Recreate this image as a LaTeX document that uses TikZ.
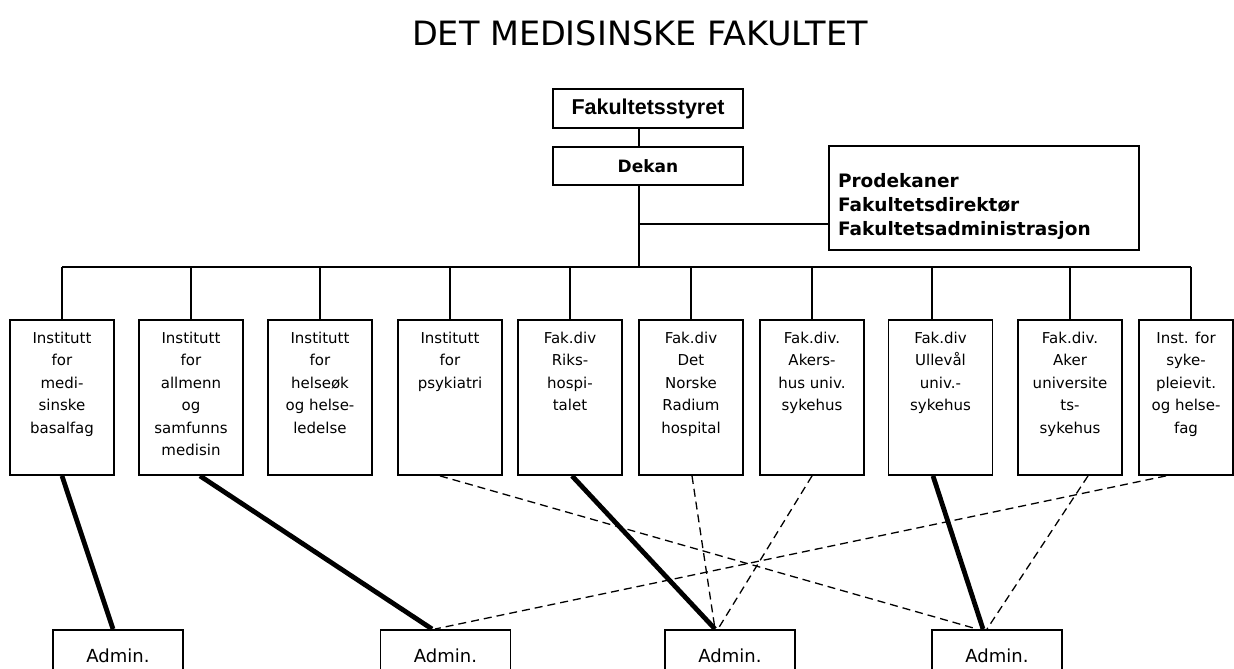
\documentclass[tikz,border=0pt]{standalone}
\usepackage{fontspec}
\setmainfont{DejaVu Sans}
\newfontfamily\arialfont{Liberation Sans}
\newcommand{\unittext}[1]{\parbox[c][131pt][t]{90pt}{\centering #1}}

\begin{document}
\begin{tikzpicture}[x=1pt,y=-1pt,
    box/.style={draw, line width=1.8pt, inner sep=0pt},
    unit/.style={box, minimum width=104pt, minimum height=155pt, font=\fontsize{15}{22.4}\selectfont},
    admin/.style={box, anchor=north, minimum width=130pt, minimum height=52pt, font=\fontsize{18}{22}\selectfont},
    tree/.style={line width=1.8pt},
    solid link/.style={line width=4.8pt},
    dashed link/.style={line width=1.3pt, dash pattern=on 8pt off 5pt}]
  \useasboundingbox (0,0) rectangle (1234,669);
  \clip (0,0) rectangle (1234,669);

  \node (title) at (640,33) {\fontsize{33.5}{38}\selectfont DET MEDISINSKE FAKULTET};
  \node (styret) at (648,108.5) [box, minimum width=190pt, minimum height=39pt] {\arialfont\bfseries\fontsize{21.5}{24}\selectfont Fakultetsstyret};
  \node (dekan) at (648,166) [box, minimum width=190pt, minimum height=38pt] {\bfseries\fontsize{17}{20}\selectfont Dekan};
  \node (prodek) at (984,198) [box, minimum width=310pt, minimum height=104pt, font=\bfseries\fontsize{18.5}{24}\selectfont]
    {\parbox[c][79pt][b]{292pt}{\raggedright Prodekaner\\Fakultetsdirektør\\Fakultetsadministrasjon}};

  \node (d1) at (62,397.5) [unit] {\unittext{Institutt\\for\\medi-\\sinske\\basalfag}};
  \node (d2) at (191,397.5) [unit] {\unittext{Institutt\\for\\allmenn\\og\\samfunns\\medisin}};
  \node (d3) at (320,397.5) [unit] {\unittext{Institutt\\for\\helseøk\\og helse-\\ledelse}};
  \node (d4) at (450,397.5) [unit] {\unittext{Institutt\\for\\psykiatri}};
  \node (d5) at (570,397.5) [unit] {\unittext{Fak.div\\Riks-\\hospi-\\talet}};
  \node (d6) at (691,397.5) [unit] {\unittext{Fak.div\\Det\\Norske\\Radium\\hospital}};
  \node (d7) at (812,397.5) [unit] {\unittext{Fak.div.\\Akers-\\hus univ.\\sykehus}};
  \node (d8) at (940.5,397.5) [unit] {\unittext{Fak.div\\Ullevål\\univ.-\\sykehus}};
  \node (d9) at (1070,397.5) [unit] {\unittext{Fak.div.\\Aker\\universite\\ts-\\sykehus}};
  \node (d10) at (1186,397.5) [unit, minimum width=94pt] {\unittext{Inst. for\\syke-\\pleievit.\\og helse-\\fag}};

  \node (a1) at (118,629) [admin] {Admin.};
  \node (a2) at (445.5,629) [admin] {Admin.};
  \node (a3) at (730,629) [admin] {Admin.};
  \node (a4) at (997,629) [admin] {Admin.};

  \coordinate (bus) at (639,267);
  \coordinate (branch) at (639,224);
  \coordinate (d8top) at ([xshift=-8.5pt]d8.north);
  \coordinate (d10top) at ([xshift=5pt]d10.north);

  \draw[tree] ([xshift=-9pt]styret.south) -- ([xshift=-9pt]dekan.north)
    ([xshift=-9pt]dekan.south) -- (bus)
    (branch) -- (branch -| prodek.west)
    (d1.north |- bus) -- (d10top |- bus)
    (d8top) -- (d8top |- bus)
    (d10top) -- (d10top |- bus);
  \foreach \n in {1,...,7,9}
    \draw[tree] (d\n.north) -- (d\n.north |- bus);

  \draw
    (d1.south) edge[solid link] ([xshift=-5pt]a1.north)
    ([xshift=9pt]d2.south) edge[solid link] ([xshift=-13.5pt]a2.north)
    ([xshift=2pt]d5.south) edge[solid link] ([xshift=-15pt]a3.north)
    ([xshift=-7.5pt]d8.south) edge[solid link] ([xshift=-14pt]a4.north)
    ([xshift=-10pt]d4.south) edge[dashed link] ([xshift=-20pt]a4.north)
    ([xshift=1pt]d6.south) edge[dashed link] ([xshift=-15pt]a3.north)
    (d7.south) edge[dashed link] ([xshift=-12pt]a3.north)
    ([xshift=18pt]d9.south) edge[dashed link] ([xshift=-10pt]a4.north)
    ([xshift=-20pt]d10.south) edge[dashed link] ([xshift=-10.5pt]a2.north)
    ;
\end{tikzpicture}
\end{document}
